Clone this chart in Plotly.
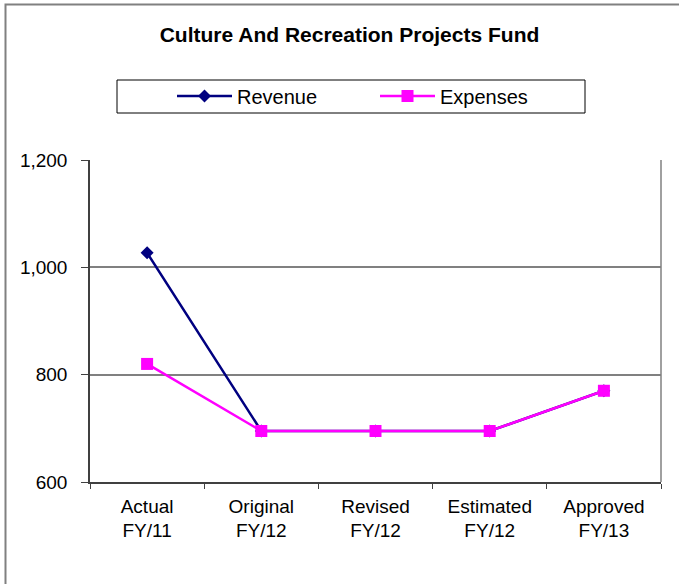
import plotly.graph_objects as go

categories = ["Actual<br>FY/11", "Original<br>FY/12", "Revised<br>FY/12", "Estimated<br>FY/12", "Approved<br>FY/13"]
revenue = [1027, 695, 695, 695, 770]
expenses = [820, 695, 695, 695, 770]
y_ticks = [600, 800, 1000, 1200]
y_tick_labels = ["600", "800", "1,000", "1,200"]

W, H = 679, 584
L, R, T, B = 90, 18, 160, 102
pw, ph = W - L - R, H - T - B

def px(x):
    return (x - L) / pw

def py(y):
    return (H - B - y) / ph

FONT = "Liberation Sans, Arial, sans-serif"

fig = go.Figure()
fig.add_trace(go.Scatter(
    x=categories, y=revenue, name="Revenue", mode="lines+markers",
    line=dict(color="#000080", width=2.5),
    marker=dict(symbol="diamond", size=10, color="#000080"),
))
fig.add_trace(go.Scatter(
    x=categories, y=expenses, name="Expenses", mode="lines+markers",
    line=dict(color="#FF00FF", width=2.5),
    marker=dict(symbol="square", size=12, color="#FF00FF"),
))

shapes = [
    # outer chart border
    dict(type="rect", xref="paper", yref="paper", x0=px(5.5), x1=px(690), y0=py(600), y1=py(4.5),
         line=dict(color="#808080", width=2), fillcolor="rgba(0,0,0,0)", layer="below"),
    # legend box
    dict(type="rect", xref="paper", yref="paper", x0=px(117), x1=px(585), y0=py(113), y1=py(80),
         line=dict(color="#000000", width=1), fillcolor="rgba(0,0,0,0)"),
    # right border of plot area
    dict(type="line", xref="paper", yref="paper", x0=1, x1=1, y0=0, y1=1,
         line=dict(color="#808080", width=1.5)),
]

fig.update_layout(
    width=W, height=H,
    margin=dict(l=L, r=R, t=T, b=B, pad=0),
    paper_bgcolor="white", plot_bgcolor="white",
    font=dict(family=FONT, size=19, color="black"),
    title=dict(text="<b>Culture And Recreation Projects Fund</b>", xref="paper", x=px(349.5),
               xanchor="center", y=1 - 35 / H, yanchor="middle", font=dict(size=21, family=FONT)),
    showlegend=True,
    legend=dict(orientation="h", x=px(172), xanchor="left", y=py(96), yanchor="middle",
                bgcolor="rgba(0,0,0,0)", borderwidth=0, font=dict(size=20),
                entrywidth=133, entrywidthmode="pixels", itemwidth=55, tracegroupgap=0),
    shapes=shapes,
    xaxis=dict(type="category", range=[-0.5, 4.5], showgrid=False, showline=True,
               linecolor="#404040", linewidth=1.5, ticks="outside", tickson="boundaries",
               ticklen=5, tickcolor="#404040", tickfont=dict(size=19), ticklabelstandoff=6,
               fixedrange=True),
    yaxis=dict(range=[600, 1200], tickvals=y_ticks, ticktext=y_tick_labels,
               showgrid=True, gridcolor="#808080", gridwidth=1.5, showline=True,
               linecolor="#404040", linewidth=1.5, ticks="outside", ticklen=7,
               tickcolor="#404040", tickfont=dict(size=19), ticklabelstandoff=10,
               zeroline=False, fixedrange=True),
)

fig.write_html("out.html", config={"displayModeBar": False},
               post_script="document.body.style.margin='0px';document.body.style.padding='0px';")
